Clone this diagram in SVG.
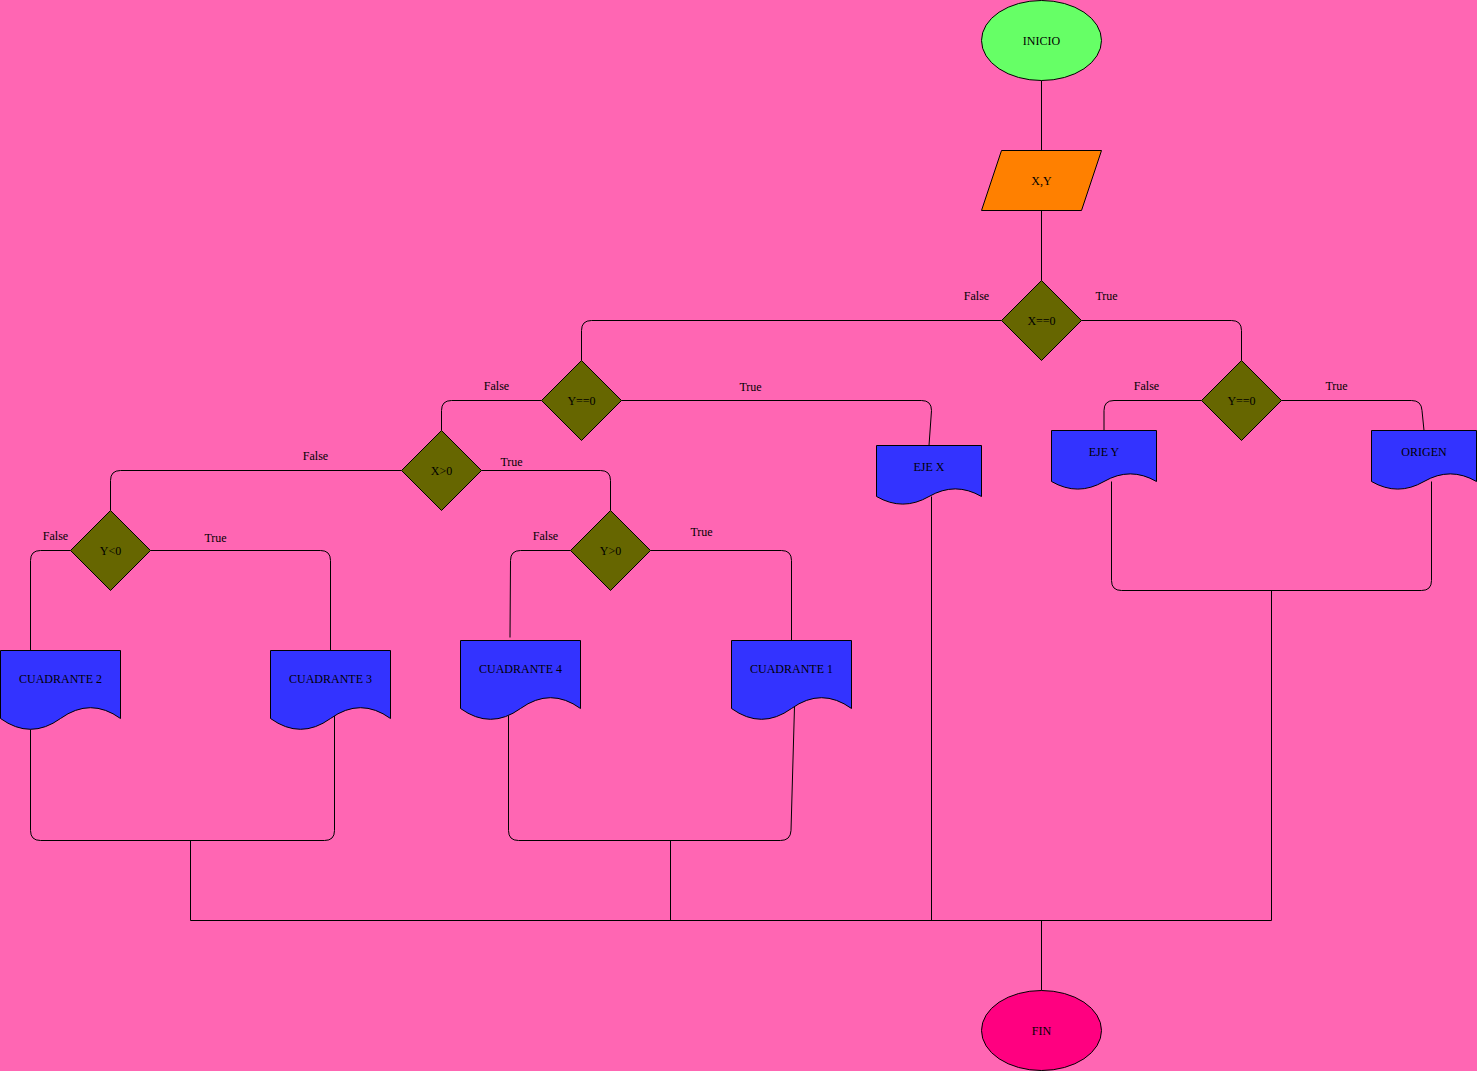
<svg xmlns="http://www.w3.org/2000/svg" width="1477" height="1071" viewBox="0 0 1477 1071">
<style>
  text { font-family: "Liberation Serif", "Times New Roman", serif; font-size: 12px; fill: #000; text-anchor: middle; dominant-baseline: central; }
  .edge { fill: none; stroke: #000; stroke-width: 1; }
  .dec { fill: #666600; stroke: #000; stroke-width: 1; }
  .doc { fill: #3333FF; stroke: #000; stroke-width: 1; }
  .term { stroke: #000; stroke-width: 1; }
</style>
<defs>
  <path id="doc120" d="M0,0 L120,0 L120,68 Q90,46.4 60,68 Q30,89.6 0,68 Z"/>
  <path id="doc105" d="M0,0 L105,0 L105,51 Q78.75,35.8 52.5,51 Q26.25,66.2 0,51 Z"/>
  <polygon id="diamond" points="0,-40 40,0 0,40 -40,0"/>
</defs>
<rect x="0" y="0" width="1477" height="1071" fill="#FF66B3"/>
<g transform="translate(0.5,0.5)">
<g id="connectors">
  <path class="edge" d="M1041,80 L1041,150"/>
  <path class="edge" d="M1041,210 L1041,280"/>
  <path class="edge" d="M1001,320 L591,320 Q581,320 581,330 L581,360"/>
  <path class="edge" d="M1081,320 L1231,320 Q1241,320 1241,330 L1241,360"/>
  <path class="edge" d="M541,400 L451,400 Q441,400 441,410 L441,430"/>
  <path class="edge" d="M621,400 L921,400 Q931,400 931,410 L928.5,445"/>
  <path class="edge" d="M1201,400 L1113.5,400 Q1103.5,400 1103.5,410 L1103.5,430"/>
  <path class="edge" d="M1281,400 L1411,400 Q1421,400 1421.5,410 L1423.5,430"/>
  <path class="edge" d="M401,470 L120,470 Q110,470 110,480 L110,510"/>
  <path class="edge" d="M481,470 L600,470 Q610,470 610,480 L610,510"/>
  <path class="edge" d="M70,550 L40,550 Q30,550 30,560 L30,650"/>
  <path class="edge" d="M150,550 L320,550 Q330,550 330,560 L330,650"/>
  <path class="edge" d="M570,550 L520,550 Q510,550 510,560 L509.5,637"/>
  <path class="edge" d="M650,550 L781,550 Q791,550 791,560 L791,640"/>
  <path class="edge" d="M30,729 L30,830 Q30,840 40,840 L324,840 Q334,840 334,830 L334,715"/>
  <path class="edge" d="M190,840 L190,920"/>
  <path class="edge" d="M508,715 L508,830 Q508,840 518,840 L780,840 Q790,840 790.5,830 L794,706"/>
  <path class="edge" d="M670,840 L670,920"/>
  <path class="edge" d="M931,496 L931,920"/>
  <path class="edge" d="M1111,481 L1111,580 Q1111,590 1121,590 L1421,590 Q1431,590 1431,580 L1431,481"/>
  <path class="edge" d="M1271,590 L1271,920"/>
  <path class="edge" d="M190,920 L1271,920"/>
  <path class="edge" d="M1041,920 L1041,990"/>
  <text x="976" y="295">False</text>
  <text x="1106" y="295">True</text>
  <text x="496" y="385">False</text>
  <text x="750" y="386">True</text>
  <text x="1146" y="385">False</text>
  <text x="1336" y="385">True</text>
  <text x="315" y="455">False</text>
  <text x="511" y="461">True</text>
  <text x="55" y="535">False</text>
  <text x="215" y="537">True</text>
  <text x="545" y="535">False</text>
  <text x="701" y="531">True</text>
</g>

<g id="inicio">
  <ellipse class="term" cx="1041" cy="40" rx="60" ry="40" fill="#66FF66"/>
  <text x="1041" y="40">INICIO</text>
</g>
<g id="entrada">
  <polygon points="1001,150 1101,150 1081,210 981,210" fill="#FF8000" stroke="#000"/>
  <text x="1041" y="180">X,Y</text>
</g>
<g id="dec-x0">
  <use href="#diamond" class="dec" x="1041" y="320"/>
  <text x="1041" y="320">X==0</text>
</g>
<g id="dec-y0-left">
  <use href="#diamond" class="dec" x="581" y="400"/>
  <text x="581" y="400">Y==0</text>
</g>
<g id="dec-y0-right">
  <use href="#diamond" class="dec" x="1241" y="400"/>
  <text x="1241" y="400">Y==0</text>
</g>
<g id="dec-xgt0">
  <use href="#diamond" class="dec" x="441" y="470"/>
  <text x="441" y="470">X&gt;0</text>
</g>
<g id="dec-ylt0">
  <use href="#diamond" class="dec" x="110" y="550"/>
  <text x="110" y="550">Y&lt;0</text>
</g>
<g id="dec-ygt0">
  <use href="#diamond" class="dec" x="610" y="550"/>
  <text x="610" y="550">Y&gt;0</text>
</g>
<g id="eje-x">
  <use href="#doc105" class="doc" x="876" y="445"/>
  <text x="928.5" y="466">EJE X</text>
</g>
<g id="eje-y">
  <use href="#doc105" class="doc" x="1051" y="430"/>
  <text x="1103.5" y="451">EJE Y</text>
</g>
<g id="origen">
  <use href="#doc105" class="doc" x="1371" y="430"/>
  <text x="1423.5" y="451">ORIGEN</text>
</g>
<g id="cuadrante2">
  <use href="#doc120" class="doc" x="0" y="650"/>
  <text x="60" y="678">CUADRANTE 2</text>
</g>
<g id="cuadrante3">
  <use href="#doc120" class="doc" x="270" y="650"/>
  <text x="330" y="678">CUADRANTE 3</text>
</g>
<g id="cuadrante4">
  <use href="#doc120" class="doc" x="460" y="640"/>
  <text x="520" y="668">CUADRANTE 4</text>
</g>
<g id="cuadrante1">
  <use href="#doc120" class="doc" x="731" y="640"/>
  <text x="791" y="668">CUADRANTE 1</text>
</g>
<g id="fin">
  <ellipse class="term" cx="1041" cy="1030" rx="60" ry="40" fill="#FF0080"/>
  <text x="1041" y="1030">FIN</text>
</g>
</g>
</svg>
